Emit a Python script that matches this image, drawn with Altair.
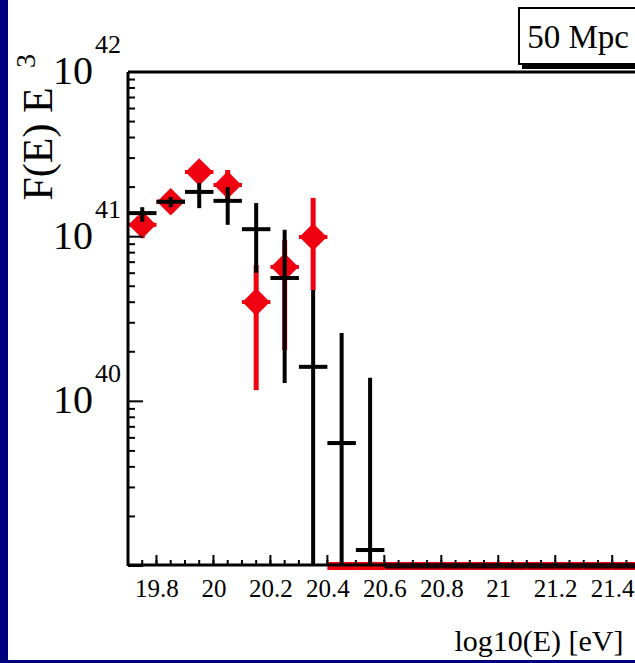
import altair as alt
import pandas as pd

# ---------------- data ----------------
half_bin = 0.05
y_floor = 1e39  # empty bins are drawn on the bottom edge of the frame

black_x = [19.75, 19.85, 19.95, 20.05, 20.15, 20.25, 20.35, 20.45, 20.55]
black_y = [1.39e41, 1.63e41, 1.87e41, 1.65e41, 1.11e41, 5.61e40, 1.62e40, 5.58e39, 1.25e39]
black_hi = [1.51e41, 1.74e41, 2.12e41, 2.00e41, 1.60e41, 1.10e41, 4.74e40, 2.60e40, 1.39e40]
black_lo = [1.23e41, 1.51e41, 1.49e41, 1.18e41, 6.03e40, 1.29e40, 1e39, 1e39, 1e39]
black_zero_x = [20.65, 20.75, 20.85, 20.95, 21.05, 21.15, 21.25, 21.35, 21.45]

red_x = [19.75, 19.85, 19.95, 20.05, 20.15, 20.25, 20.35]
red_y = [1.18e41, 1.63e41, 2.47e41, 2.06e41, 4.01e40, 6.55e40, 9.95e40]
red_hi = [1.41e41, 1.75e41, 2.72e41, 2.54e41, 6.73e40, 9.55e40, 1.72e41]
red_lo = [9.8e40, 1.50e41, 2.15e41, 1.67e41, 1.17e40, 2.05e40, 4.74e40]
red_zero_x = [20.45, 20.55, 20.65, 20.75, 20.85, 20.95, 21.05, 21.15, 21.25, 21.35, 21.45]

x_major = [19.8, 20.0, 20.2, 20.4, 20.6, 20.8, 21.0, 21.2, 21.4]
x_minor = [round(19.7 + 0.05 * i, 2) for i in range(36)]
y_major = [1e39, 1e40, 1e41, 1e42]
y_minor = [k * 10.0 ** d for d in (39, 40, 41) for k in range(2, 10)]
y_label_vals = [1e40, 1e41, 1e42]
y_label_base = ["10", "10", "10"]
y_label_exp = ["40", "41", "42"]

x_title = "log10(E) [eV]"
y_title_main = "F(E) E"
y_title_sup = "3"
box_text = "50 Mpc"

# ---------------- layout / style ----------------
W, H = 507, 494
SERIF = "Liberation Serif, Times New Roman, serif"
RED = "#f00010"
NAVY = "#00007f"

xscale = alt.Scale(domain=[19.7, 21.48], nice=False, zero=False)
yscale = alt.Scale(type="log", domain=[1e39, 1e42], nice=False)
xaxis = alt.Axis(
    values=x_major, format="~g", labelFont=SERIF, labelFontSize=25,
    labelColor="black", labelPadding=10, ticks=False, tickSize=0,
    domain=False, grid=False, labelOverlap=False, labelFlush=False,
    title=x_title, titleFont=SERIF, titleFontSize=30, titleFontWeight="normal",
    titleColor="black", titleAlign="right", titleAnchor="end",
    titleX=495, titleY=75, titleBaseline="middle",
)


def X(f):
    return alt.X(f, type="quantitative", scale=xscale, axis=xaxis)


def Y(f):
    return alt.Y(f, type="quantitative", scale=yscale, axis=None)


black = pd.DataFrame({"x": black_x, "y": black_y, "hi": black_hi, "lo": black_lo})
black["x0"] = black["x"] - half_bin
black["x1"] = black["x"] + half_bin
black_zero = pd.DataFrame({"x": black_zero_x})
black_zero["y"] = y_floor
black_zero["x0"] = black_zero["x"] - half_bin
black_zero["x1"] = black_zero["x"] + half_bin

red = pd.DataFrame({"x": red_x, "y": red_y, "hi": red_hi, "lo": red_lo})
red["x0"] = red["x"] - half_bin
red["x1"] = red["x"] + half_bin
red_zero = pd.DataFrame({"x": red_zero_x})
red_zero["y"] = y_floor
red_zero["x0"] = red_zero["x"] - half_bin
red_zero["x1"] = red_zero["x"] + half_bin

one = pd.DataFrame({"a": [0]})

# background strips
navy_left = alt.Chart(one).mark_rect(color=NAVY).encode(
    x=alt.value(-128), x2=alt.value(-120), y=alt.value(-72), y2=alt.value(H + 97))
navy_bottom = alt.Chart(one).mark_rect(color=NAVY).encode(
    x=alt.value(-128), x2=alt.value(W + 10), y=alt.value(H + 94), y2=alt.value(H + 97))

# red series
red_v = alt.Chart(red).mark_rule(color=RED, strokeWidth=5).encode(
    x=X("x"), y=Y("lo"), y2="hi")
red_hbar = alt.Chart(red).mark_rule(color=RED, strokeWidth=4).encode(
    x=X("x0"), x2="x1", y=Y("y"))
red_zbar = alt.Chart(red_zero).mark_rule(color=RED, strokeWidth=8).encode(
    x=X("x0"), x2="x1", y=Y("y"))
red_pts = alt.Chart(red).mark_point(
    shape="diamond", filled=True, color=RED, opacity=1, size=760).encode(
    x=X("x"), y=Y("y"))

# black series
black_v = alt.Chart(black).mark_rule(color="black", strokeWidth=4).encode(
    x=X("x"), y=Y("lo"), y2="hi")
black_hbar = alt.Chart(black).mark_rule(color="black", strokeWidth=4).encode(
    x=X("x0"), x2="x1", y=Y("y"))
black_zbar = alt.Chart(black_zero).mark_rule(color="#1a0000", strokeWidth=5).encode(
    x=X("x0"), x2="x1", y=Y("y"))

# frame
frame_top = alt.Chart(one).mark_rule(color="black", strokeWidth=3).encode(
    x=alt.value(0), x2=alt.value(W + 10), y=alt.value(0))
frame_left = alt.Chart(one).mark_rule(color="black", strokeWidth=3).encode(
    x=alt.value(0), y=alt.value(0), y2=alt.value(H))
frame_bottom = alt.Chart(one).mark_rule(color="black", strokeWidth=3).encode(
    x=alt.value(0), x2=alt.value(W + 10), y=alt.value(H - 1))

# ticks (inside the frame)
xt_minor = alt.Chart(pd.DataFrame({"t": x_minor})).mark_rule(color="black", strokeWidth=2).encode(
    x=X("t"), y=alt.value(H), y2=alt.value(H - 6))
xt_major = alt.Chart(pd.DataFrame({"t": x_major})).mark_rule(color="black", strokeWidth=2).encode(
    x=X("t"), y=alt.value(H), y2=alt.value(H - 11))
yt_minor = alt.Chart(pd.DataFrame({"t": y_minor})).mark_rule(color="black", strokeWidth=2).encode(
    y=Y("t"), x=alt.value(0), x2=alt.value(7))
yt_major = alt.Chart(pd.DataFrame({"t": y_major})).mark_rule(color="black", strokeWidth=2).encode(
    y=Y("t"), x=alt.value(0), x2=alt.value(15))

# y tick labels 10^n
ylab = pd.DataFrame({"v": y_label_vals, "base": y_label_base, "exp": y_label_exp})
ylab_base = alt.Chart(ylab).mark_text(
    font=SERIF, fontSize=40, align="right", baseline="middle", color="black").encode(
    y=Y("v"), x=alt.value(-35), text="base:N")
ylab_exp = alt.Chart(ylab).mark_text(
    font=SERIF, fontSize=26, align="left", baseline="middle", color="black", dy=-27).encode(
    y=Y("v"), x=alt.value(-33), text="exp:N")

# y title
ytitle = pd.DataFrame({"main": [y_title_main], "sup": [y_title_sup]})
yt_main = alt.Chart(ytitle).mark_text(
    font=SERIF, fontSize=42, angle=270, align="center", baseline="middle", color="black").encode(
    x=alt.value(-89), y=alt.value(72), text="main:N")
yt_sup = alt.Chart(ytitle).mark_text(
    font=SERIF, fontSize=28, angle=270, align="center", baseline="middle", color="black").encode(
    x=alt.value(-101), y=alt.value(-11), text="sup:N")

# label box
box_df = pd.DataFrame({"t": [box_text]})
box_shadow = alt.Chart(box_df).mark_rect(color="black").encode(
    x=alt.value(394), x2=alt.value(W + 20), y=alt.value(-10), y2=alt.value(-3))
box = alt.Chart(box_df).mark_rect(fill="white", stroke="black", strokeWidth=2).encode(
    x=alt.value(391), x2=alt.value(W + 15), y=alt.value(-64), y2=alt.value(-8))
box_label = alt.Chart(box_df).mark_text(
    font=SERIF, fontSize=33, align="center", baseline="middle", color="black").encode(
    x=alt.value(450), y=alt.value(-34), text="t:N")

chart = alt.layer(
    navy_left, navy_bottom,
    red_v, red_hbar, red_zbar, red_pts,
    black_v, black_hbar,
    frame_top, frame_left, frame_bottom, black_zbar,
    xt_minor, xt_major, yt_minor, yt_major,
    ylab_base, ylab_exp, yt_main, yt_sup,
    box_shadow, box, box_label,
).properties(
    width=W, height=H,
    autosize=alt.AutoSizeParams(type="none"),
    padding={"left": 128, "top": 72, "right": 0, "bottom": 97},
    background="white",
).configure_view(strokeWidth=0)

chart.save("out.html", embed_options={"renderer": "svg", "actions": False})
